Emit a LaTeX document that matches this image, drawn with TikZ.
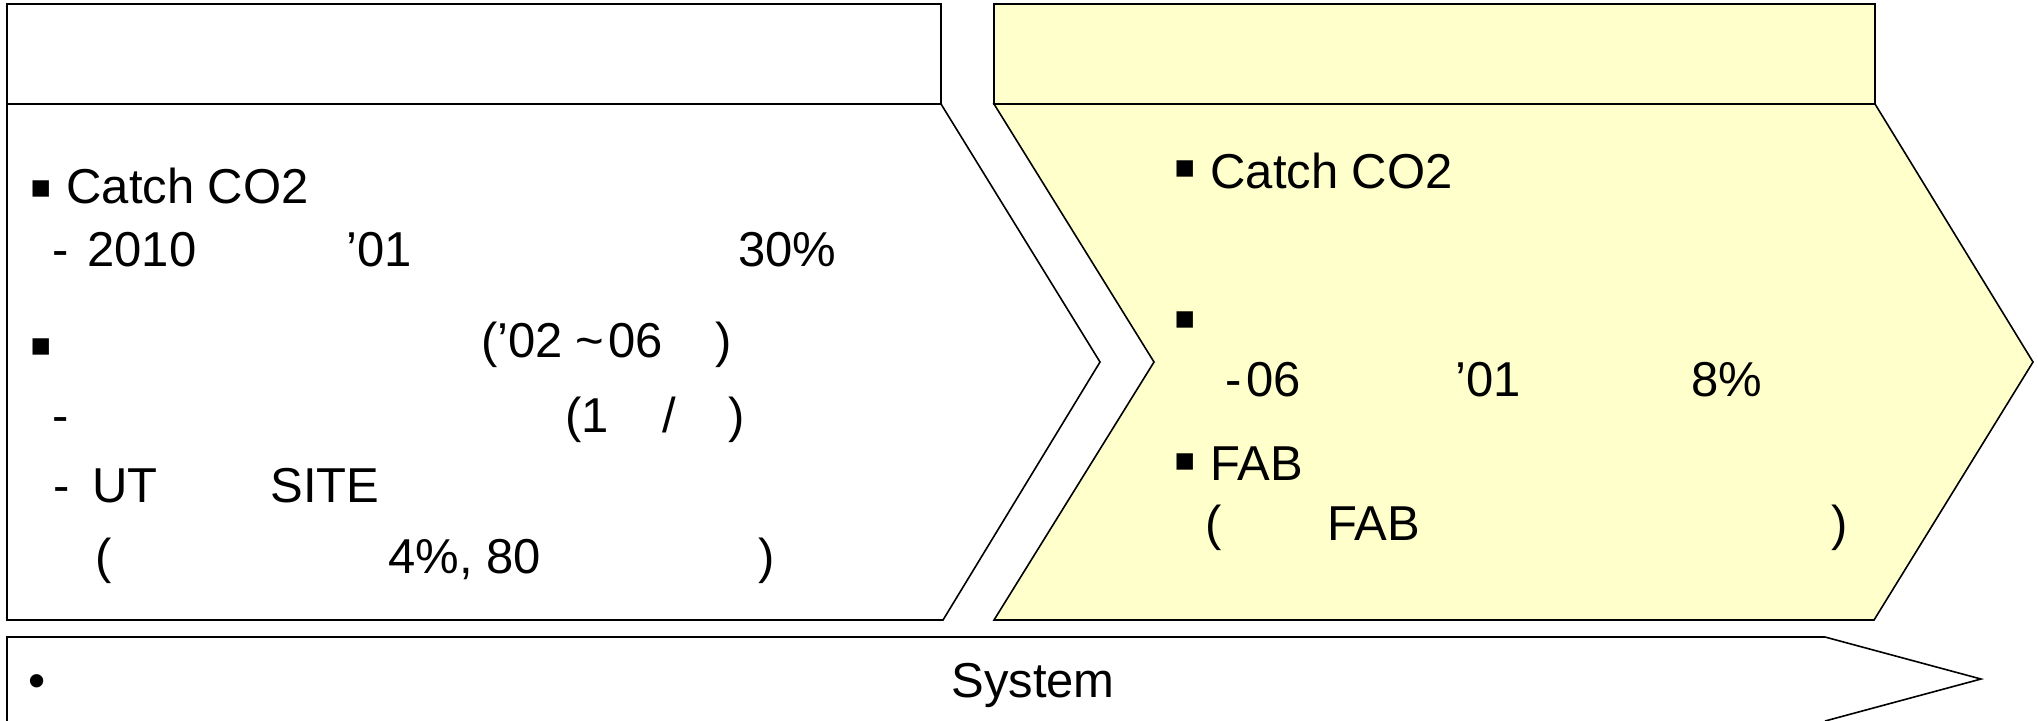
\documentclass[tikz,border=0pt]{standalone}
\usepackage{fontspec}
\setmainfont{Liberation Sans}
\usetikzlibrary{positioning}

\definecolor{paleyellow}{HTML}{FFFFCC}
\newcommand\bodysize{\fontsize{24.5}{29}\selectfont}
\newcommand\bulletsize{\fontsize{33}{38}\selectfont}

\tikzset{
  txt/.style={anchor=base west,inner sep=0pt,font=\bodysize},
  sq/.style={anchor=base west,inner sep=0pt,font=\bulletsize},
  panel/.style={draw=black,line width=0.8pt,line join=miter},
  headbox/.style={panel,line width=1pt},
}

\begin{document}
\begin{tikzpicture}[x=0.5pt,y=-0.5pt]
  \useasboundingbox (0,0) rectangle (2038,720);

  % Header boxes
  \draw[headbox] (7,4) rectangle (941,104);
  \draw[headbox,fill=paleyellow] (994,4) rectangle (1875,104);

  % Chevron bodies
  \coordinate (tipL) at (1100,362);
  \coordinate (notchR) at (1154,362);
  \coordinate (tipR) at (2033,362);
  \draw[panel] (7,104) -- (941,104) -- (tipL) -- (943,620) -- (7,620) -- cycle;
  \draw[panel,fill=paleyellow] (994,104) -- (1875,104) -- (tipR) -- (1874,620)
    -- (994,620) -- (notchR) -- cycle;

  % Long arrow along the bottom
  \coordinate (tipB) at (1981,679);
  \draw[panel] (7,724) -- (7,637) -- (1825,637) -- (tipB) -- (1825,721);

  % Left panel text
  \node[sq] (l1b) at (29,209) {▪};
  \node[txt] (l1) at (66,203) {Catch CO2};
  \node[txt] (l2a) at (52,266) {-};
  \node[txt] (l2b) at (87,266) {2010};
  \node[txt] (l2c) at (346,266) {’01};
  \node[txt] (l2d) at (738,266) {30\%};
  \node[sq] (l3b) at (29,367) {▪};
  \node[txt] (l3a) at (481,357) {(’02};
  \node[txt] (l3c) at (575,357) {\textasciitilde};
  \node[txt] (l3d) at (608,357) {06};
  \node[txt] (l3e) at (715,357) {)};
  \node[txt] (l4a) at (52,432) {-};
  \node[txt] (l4b) at (565,432) {(1};
  \node[txt] (l4c) at (662,432) {/};
  \node[txt] (l4d) at (728,432) {)};
  \node[txt] (l5a) at (53,502) {-};
  \node[txt] (l5b) at (92,502) {UT};
  \node[txt] (l5c) at (270,502) {SITE};
  \node[txt] (l6a) at (95,573) {(};
  \node[txt] (l6b) at (388,573) {4\%, 80};
  \node[txt] (l6c) at (758,573) {)};

  % Right panel text
  \node[sq] (r1b) at (1173,189) {▪};
  \node[txt] (r1) at (1210,188) {Catch CO2};
  \node[sq] (r2b) at (1173,340) {▪};
  \node[txt] (r3a) at (1225,396) {-};
  \node[txt] (r3b) at (1246,396) {06};
  \node[txt] (r3c) at (1455,396) {’01};
  \node[txt] (r3d) at (1691,396) {8\%};
  \node[sq] (r4b) at (1173,482) {▪};
  \node[txt] (r4) at (1210,480) {FAB};
  \node[txt] (r5a) at (1205,540) {(};
  \node[txt] (r5b) at (1327,540) {FAB};
  \node[txt] (r5c) at (1831,540) {)};

  % Bottom arrow text
  \node[txt] (b1) at (28,697) {•};
  \node[txt] (b2) at (951,697) {System};
\end{tikzpicture}
\end{document}
